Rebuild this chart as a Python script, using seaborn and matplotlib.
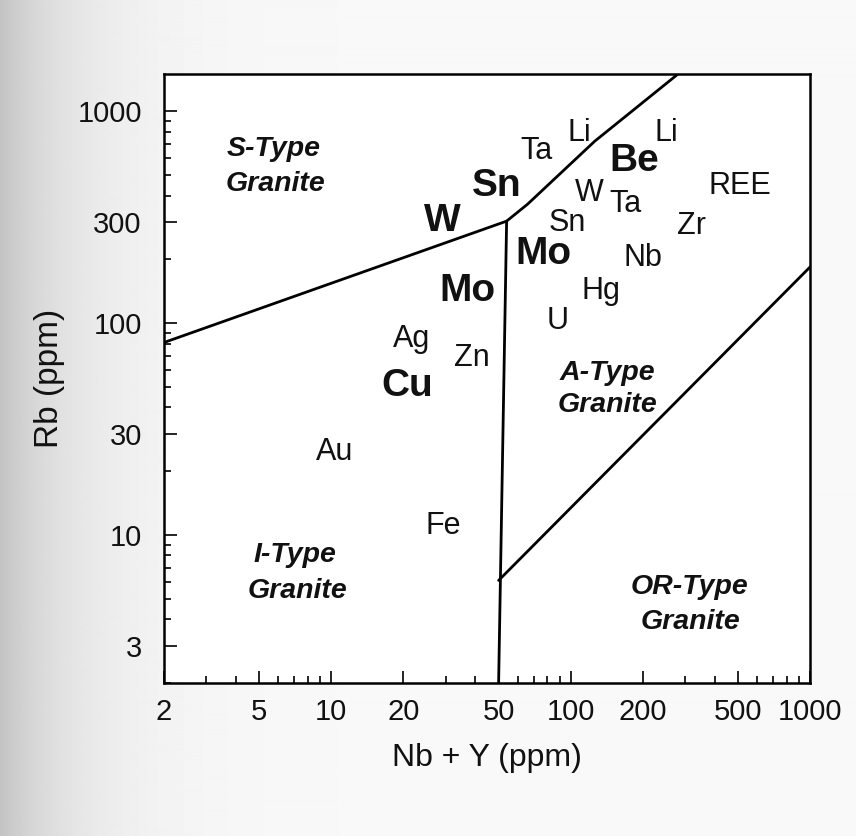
import numpy as np
import matplotlib
matplotlib.use("Agg")
import matplotlib.pyplot as plt
import seaborn as sns
from matplotlib.ticker import FixedLocator, LogLocator, NullFormatter, FixedFormatter

# ---- boundary lines (data units: Nb+Y ppm, Rb ppm) ----
si_x = [2, 54, 66, 126, 281]          # S-type / I-type & A-type boundary
si_y = [81, 303, 364, 722, 1500]
ia_x = [50, 54]                        # I-type / A-type boundary
ia_y = [2, 303]
ao_x = [50, 1000]                      # A-type / OR-type boundary
ao_y = [6.1, 184]

# ---- element labels ----
elements = ["W", "Sn", "Ta", "Li", "Be", "Li", "REE", "W", "Ta", "Sn", "Zr",
            "Mo", "Nb", "Mo", "Hg", "U", "Ag", "Zn", "Cu", "Au", "Fe"]
elem_x = [29.0, 49.2, 72.3, 109, 184, 252, 509, 120, 169, 96.5, 321,
          76.6, 200, 36.9, 134, 88.5, 21.7, 38.7, 20.7, 10.3, 29.3]
elem_y = [272, 397, 594, 722, 521, 722, 405, 376, 334, 272, 263,
          190, 186, 127, 130, 93.8, 77.1, 62.7, 45.3, 22.6, 10.1]
elem_bold = [True, True, False, False, True, False, False, False, False, False, False,
             True, False, True, False, False, False, False, True, False, False]

# ---- region labels ----
region_text = ["S-Type", "Granite", "A-Type", "Granite",
               "I-Type", "Granite", "OR-Type", "Granite"]
region_x = [5.76, 5.87, 142, 142, 7.05, 7.19, 315, 318]
region_y = [614, 420, 53.8, 38.0, 7.46, 5.04, 5.27, 3.61]

# ---- axes ----
xticks = [2, 5, 10, 20, 50, 100, 200, 500, 1000]
xtick_labels = ["2", "5", "10", "20", "50", "100", "200", "500", "1000"]
yticks = [3, 10, 30, 100, 300, 1000]
ytick_labels = ["3", "10", "30", "100", "300", "1000"]
xlabel = "Nb + Y (ppm)"
ylabel = "Rb (ppm)"

sns.set_theme(style="ticks")
plt.rcParams["font.family"] = ["Liberation Sans", "DejaVu Sans"]

fig = plt.figure(figsize=(8.56, 8.36), dpi=100)

# scanned-paper background
bg = fig.add_axes([0, 0, 1, 1], zorder=-10)
px = np.arange(856)
shade = 0.975 - 0.21 * np.exp(-px / 75.0)
bg.imshow(np.tile(shade, (20, 1)), aspect="auto", cmap="gray", vmin=0, vmax=1,
          extent=[0, 1, 0, 1], interpolation="bilinear")
bg.axis("off")

ax = fig.add_axes([0.1916, 0.183, 0.7547, 0.7285])
ax.set_facecolor("white")

for xs, ys in [(si_x, si_y), (ia_x, ia_y), (ao_x, ao_y)]:
    sns.lineplot(x=xs, y=ys, ax=ax, color="black", lw=2.0, sort=False,
                 estimator=None)

ax.set_xscale("log")
ax.set_yscale("log")
ax.set_xlim(2, 1000)
ax.set_ylim(2, 1500)

for t, x, y, b in zip(elements, elem_x, elem_y, elem_bold):
    ax.text(x, y, t, ha="center", va="baseline", color="#111111",
            fontsize=28 if b else 22, fontweight="bold" if b else "normal")

for t, x, y in zip(region_text, region_x, region_y):
    ax.text(x, y, t, ha="center", va="baseline", color="#111111",
            fontsize=20.5, fontweight="bold", fontstyle="italic")

ax.xaxis.set_major_locator(FixedLocator(xticks))
ax.xaxis.set_major_formatter(FixedFormatter(xtick_labels))
ax.xaxis.set_minor_locator(LogLocator(base=10, subs=np.arange(1, 10)))
ax.xaxis.set_minor_formatter(NullFormatter())
ax.yaxis.set_major_locator(FixedLocator(yticks))
ax.yaxis.set_major_formatter(FixedFormatter(ytick_labels))
ax.yaxis.set_minor_locator(LogLocator(base=10, subs=np.arange(1, 10)))
ax.yaxis.set_minor_formatter(NullFormatter())

ax.tick_params(which="both", direction="in", color="black", width=1.2,
               top=False, right=False)
ax.tick_params(which="major", length=9, labelsize=21, labelcolor="#111111")
ax.tick_params(which="minor", length=5)
ax.tick_params(axis="x", which="major", pad=11)
ax.tick_params(axis="y", which="major", pad=16)

for s in ax.spines.values():
    s.set_visible(True)
    s.set_color("black")
    s.set_linewidth(1.8)

ax.set_xlabel(xlabel, fontsize=23, color="#111111", labelpad=12)
ax.set_ylabel(ylabel, fontsize=24, color="#111111", labelpad=9)

fig.savefig("out.png", dpi=100)
